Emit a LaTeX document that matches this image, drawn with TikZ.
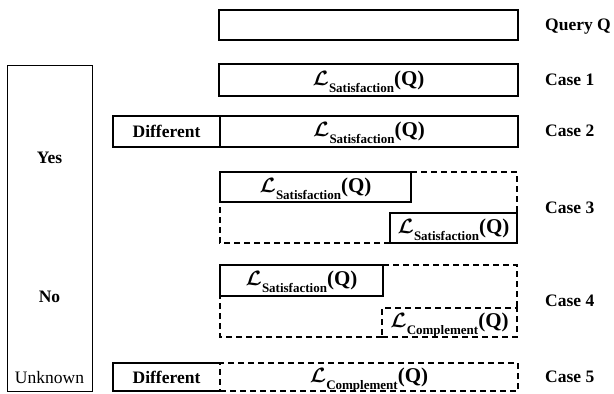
\documentclass[tikz,border=0pt]{standalone}
\usepackage{fontspec}
\setmainfont{Liberation Serif}
\usepackage{bm}
\usetikzlibrary{positioning}

\newcommand{\lterm}[1]{{\fontsize{22}{24}\selectfont$\bm{\mathcal{L}}$}\raisebox{-7pt}[0pt][0pt]{\fontsize{13}{14}\selectfont #1}{\fontsize{21}{24}\selectfont(Q)}}

\begin{document}
\begin{tikzpicture}[
	x=1pt, y=-1pt,
	every node/.style={font=\fontsize{17.5}{20}\selectfont\bfseries},
	box/.style={draw, rectangle, line width=2.6pt, inner sep=0pt, outer sep=0pt, minimum height=30pt, anchor=north west},
	dashbox/.style={box, dash pattern=on 6pt off 4pt},
	solidline/.style={line width=2.6pt},
	dashline/.style={line width=2.6pt, dash pattern=on 6pt off 4pt},
	caselabel/.style={anchor=west, inner sep=0pt}
	]
	\useasboundingbox (0,0) rectangle (614,394);
	
	% --- left column ---
	\node[draw, line width=0.8pt, inner sep=0pt, minimum width=85pt, minimum height=326pt, anchor=north west] (answer) at (7,65) {};
	\node (yes) at (49.5,158) {Yes};
	\node (no) at (49.5,297) {No};
	\node[font=\fontsize{17.5}{20}\selectfont] (unknown) at (49.5,378) {Unknown};
	
	% --- query and case 1 ---
	\node[box, minimum width=299pt] (query) at (219,10) {};
	\node[box, minimum width=299pt, minimum height=32pt] (sat1) at (219,64) {\lterm{Satisfaction}};
	
	% --- case 2 ---
	\node[box, minimum width=107pt, minimum height=31pt] (diff2) at (113,116) {Different};
	\node[box, minimum width=298pt, minimum height=31pt] (sat2) at (220,116) {\lterm{Satisfaction}};
	
	% --- case 3 ---
	\node[box, minimum width=191pt] (sat3a) at (220,172) {\lterm{Satisfaction}};
	\node[box, minimum width=127pt] (sat3b) at (390,213) {\lterm{Satisfaction}};
	\draw[dashline] (sat3a.north east) -- (sat3b.east |- sat3a.north) -- (sat3b.north east);
	\draw[dashline] (sat3b.south west) -- (sat3a.west |- sat3b.south) -- (sat3a.south west);
	
	% --- case 4 ---
	\node[box, minimum width=163pt, minimum height=31pt] (sat4) at (220,265) {\lterm{Satisfaction}};
	\node[dashbox, minimum width=135pt, minimum height=29pt] (comp4) at (382,308) {\lterm{Complement}};
	\draw[dashline] (sat4.north east) -- (comp4.east |- sat4.north) -- (comp4.north east);
	\draw[dashline] (comp4.south west) -- (sat4.west |- comp4.south) -- (sat4.south west);
	
	% --- case 5 ---
	\node[box, draw=none, minimum width=107pt, minimum height=28pt] (diff5) at (113,363) {Different};
	\node[dashbox, minimum width=298pt, minimum height=28pt] (comp5) at (220,363) {\lterm{Complement}};
	\draw[solidline] (diff5.north east) -- (diff5.north west) -- (diff5.south west) -- (diff5.south east);
	
	% --- labels on the right ---
	\node[caselabel] (queryl) at (545,27) {Query Q};
	\node[caselabel] (case1) at (545,80) {Case 1};
	\node[caselabel] (case2) at (545,131) {Case 2};
	\node[caselabel] (case3) at (545,208) {Case 3};
	\node[caselabel] (case4) at (545,301) {Case 4};
	\node[caselabel] (case5) at (545,377) {Case 5};
	
\end{tikzpicture}
\end{document}
